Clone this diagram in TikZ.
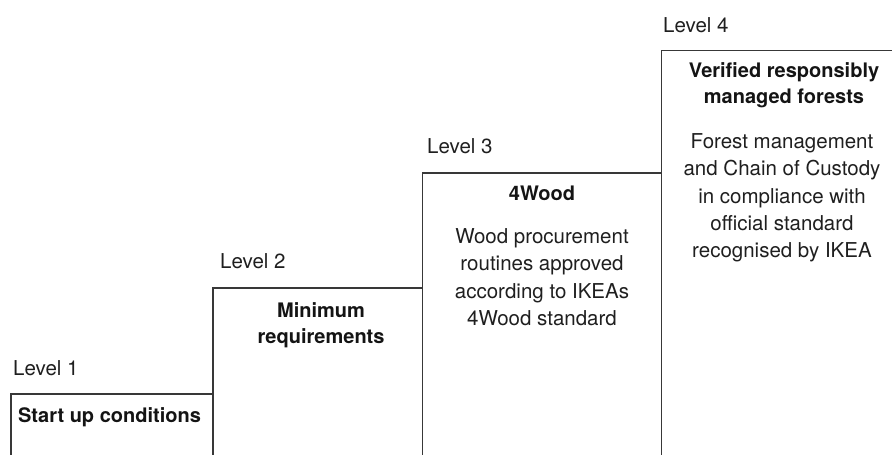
\documentclass[tikz,border=0pt]{standalone}
\usepackage{fontspec}
\setmainfont{TeX Gyre Heros}

\begin{document}
\begin{tikzpicture}[x=1pt,y=-1pt,
    stair/.style={line width=1.2pt, draw=black!78},
    lvl/.style={anchor=base west, inner sep=0pt, text=black!88, font=\fontsize{20.5}{27}\selectfont},
    ttl/.style={anchor=north, inner sep=0pt, align=center, text=black!92, font=\fontsize{20}{26}\selectfont\bfseries},
    txt/.style={anchor=north, inner sep=0pt, align=center, text=black!88, font=\fontsize{20.5}{27.2}\selectfont}]
    \useasboundingbox (0,0) rectangle (892,455);
    \coordinate (bot) at (0,455);
    \coordinate (s1) at (11,394);
    \coordinate (s2) at (213,288);
    \coordinate (s3) at (422.5,173);
    \coordinate (s4) at (661.5,50.5);
    \coordinate (end) at (892,50.5);
    \draw[stair] (s1 |- bot) -- (s1) -| (s2) -| (s3) -| (s4) -- (end);
    \foreach \s in {s2,s3,s4}
        \draw[stair] (\s) -- (\s |- bot);
    \node[lvl] (lv1) at (13,375.5) {Level 1};
    \node[lvl] (lv2) at (220,268) {Level 2};
    \node[lvl] (lv3) at (427,153) {Level 3};
    \node[lvl] (lv4) at (663,32) {Level 4};
    \node[ttl] (t1) at (109.5,407.4) {Start up conditions};
    \node[ttl] (t2) at (321,302) {Minimum\\requirements};
    \node[ttl] (t3) at (542,186) {4Wood};
    \node[ttl] (t4) at (784,62.4) {Verified responsibly\\managed forests};
    \node[txt] (b3) at (542,228.5) {Wood procurement\\routines approved\\according to IKEAs\\4Wood standard};
    \node[txt] (b4) at (782,133.5) {Forest management\\and Chain of Custody\\in compliance with\\official standard\\recognised by IKEA};
\end{tikzpicture}
\end{document}
